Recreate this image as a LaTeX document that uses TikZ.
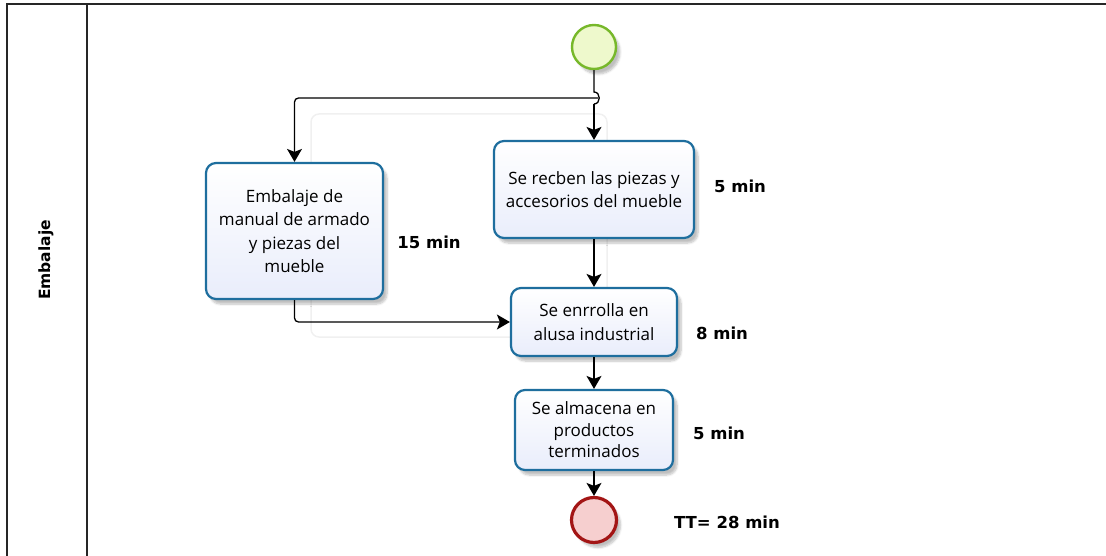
\documentclass[tikz,border=0pt]{standalone}
\usepackage{fontspec}
\setmainfont{Open Sans}
\newfontfamily\boldlabel{DejaVu Sans}
\usetikzlibrary{arrows.meta,shadows.blur,calc}
\definecolor{taskline}{HTML}{1E6E9E}
\definecolor{taskfill}{HTML}{E9EDFB}
\definecolor{startline}{HTML}{77B82A}
\definecolor{startfill}{HTML}{EEF9CC}
\definecolor{endline}{HTML}{A31515}
\definecolor{endfill}{HTML}{F6CFCF}
\tikzset{
  task/.style={draw=taskline, line width=2.2pt, rounded corners=10pt,
    top color=white, bottom color=taskfill, align=center, inner sep=0pt,
    font=\fontsize{17}{23.5}\selectfont,
    blur shadow={shadow xshift=4pt, shadow yshift=-5pt, shadow opacity=25, shadow blur steps=6}},
  startev/.style={circle, draw=startline, line width=2.4pt, fill=startfill,
    minimum size=44pt, inner sep=0pt,
    blur shadow={shadow xshift=4pt, shadow yshift=-5pt, shadow opacity=25, shadow blur steps=6}},
  endev/.style={circle, draw=endline, line width=3.2pt, fill=endfill,
    minimum size=45pt, inner sep=0pt,
    blur shadow={shadow xshift=4pt, shadow yshift=-5pt, shadow opacity=25, shadow blur steps=6}},
  flow/.style={draw=black, line width=1.3pt, rounded corners=4pt,
    -{Stealth[width=15pt,length=13pt,inset=3pt]}},
  timelbl/.style={font=\boldlabel\bfseries\fontsize{16.5}{19}\selectfont, inner sep=0pt},
  frameline/.style={draw=black!85, line width=1.6pt}
}
\begin{document}
\begin{tikzpicture}[x=1pt,y=-1pt]
\useasboundingbox (0,0) rectangle (1106,556);

% pool frame and lane header
\draw[frameline] (1106,4) -- (7,4) -- (7,556);
\draw[frameline] (87,4) -- (87,556);
\node[rotate=90, font=\boldlabel\bfseries\fontsize{15.5}{18}\selectfont] (lane) at (46,260) {Embalaje};

% faint group outline behind the flow
\draw[black!6, line width=1.5pt, rounded corners=8pt] (311,114) rectangle (607,337);

% events and tasks
\node[startev] (start) at (594,47) {};
\node[task, minimum width=200pt, minimum height=97pt] (recibe) at (594,189.5)
  {Se recben las piezas y\\accesorios del mueble};
\node[task, minimum width=177pt, minimum height=136pt] (manual) at (294.5,231)
  {Embalaje de\\manual de armado\\y piezas del\\mueble};
\node[task, minimum width=166pt, minimum height=68pt] (enrolla) at (594,322)
  {Se enrrolla en\\alusa industrial};
\node[task, minimum width=158pt, minimum height=80pt, font=\fontsize{17}{21.5}\selectfont] (almacena) at (594,430)
  {Se almacena en\\productos\\terminados};
\node[endev] (fin) at (594,520) {};

% durations
\node[timelbl] (t1) at (740,186) {5 min};
\node[timelbl] (t2) at (429,242) {15 min};
\node[timelbl] (t3) at (722,333) {8 min};
\node[timelbl] (t4) at (719,433) {5 min};
\node[timelbl] (t5) at (727,522) {TT= 28 min};

% connectors, with a small hop where the branch leaves the main line
\coordinate (hop) at (594,98);
\draw[line width=1.3pt] (start.south) -- ($(hop)+(0,-6)$)
  .. controls ($(hop)+(7,-6)$) and ($(hop)+(7,6)$) .. ($(hop)+(0,6)$);
\draw[flow] ($(hop)+(0,6)$) -- (recibe.north);
\draw[flow] ($(hop)+(4,0)$) -| (manual.north);
\draw[flow] (recibe.south) -- (enrolla.north);
\draw[flow] (manual.south) |- (enrolla.west);
\draw[flow] (enrolla.south) -- (almacena.north);
\draw[flow] (almacena.south) -- (fin.north);
\end{tikzpicture}
\end{document}
